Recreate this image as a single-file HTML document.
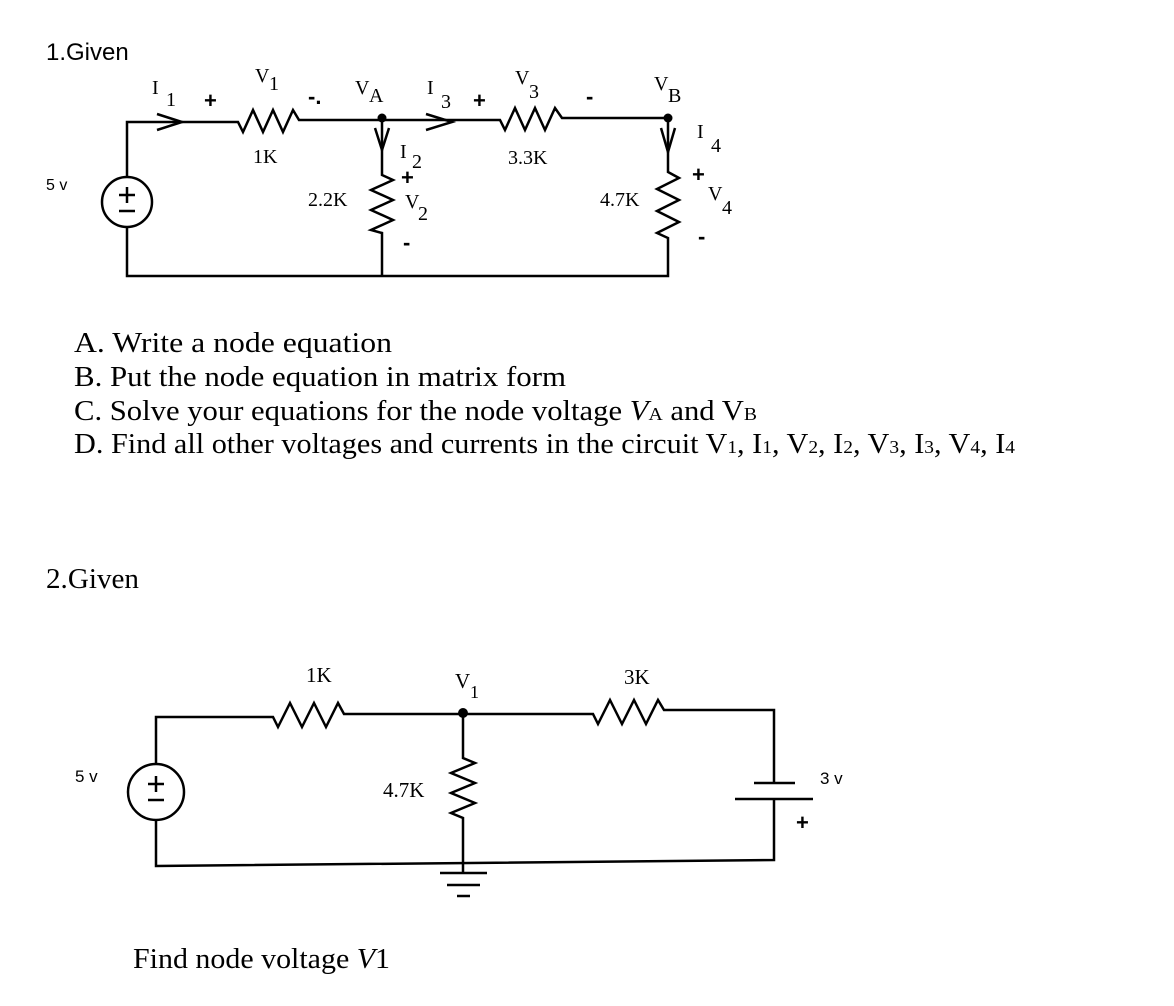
<!DOCTYPE html>
<html><head><meta charset="utf-8"><style>
html,body{margin:0;padding:0;background:#fff;}
svg{display:block;}
.s{font-family:"Liberation Serif",serif;}
.a{font-family:"Liberation Sans",sans-serif;}
</style></head><body>
<svg width="1174" height="1006" viewBox="0 0 1174 1006" xmlns="http://www.w3.org/2000/svg">
<g fill="none" stroke="#000" stroke-width="2.5" stroke-linejoin="miter">
<!-- Circuit 1 -->
<path d="M127 177 V122 H238 l5 10 l10 -22 l10 22 l10 -22 l10 22 l10 -22 l6 10 H500 l5 10 l10 -22 l10 22 l10 -22 l10 22 l10 -22 l7 10 H668 V172 l11 6 l-22 11 l22 11 l-22 11 l22 11 l-22 11 l11 5 V276 H127 V227"/>
<path d="M382 120 V175 l11 5 l-22 10 l22 10 l-22 10 l22 10 l-22 10 l11 3 V276"/>
<ellipse cx="127" cy="202" rx="25" ry="25"/>
<path d="M157 114 L182 122 L157 130" />
<path d="M426 114 L452 122 L426 130" />
<path d="M375 128 L382 150 L389 128" />
<path d="M661 128 L668 152 L675 128" />
<!-- Circuit 2 -->
<path d="M156 765 V717 H273 l5 10 l12 -24 l12 24 l12 -24 l12 24 l12 -24 l6 11 H593 l5 10 l12 -24 l12 24 l12 -24 l12 24 l12 -24 l6 10 H774 V783"/>
<path d="M774 799 V860 L156 866 V820"/>
<path d="M463 713 V758 l12 5 l-24 10 l24 10 l-24 10 l24 10 l-24 10 l12 5 V873"/>
<ellipse cx="156" cy="792" rx="28" ry="28"/>
<path d="M754 783 H795 M735 799 H813"/>
<path d="M440 873 H487 M447 885 H480 M457 896 H470"/>
</g>
<circle cx="382" cy="118" r="4.5"/>
<circle cx="668" cy="118" r="4.5"/>
<circle cx="463" cy="713" r="5"/>
<g stroke="#000" stroke-width="2.5">
<path d="M119 195 H135 M127 187 V203 M119 211 H135"/>
<path d="M148 784 H164 M156 776 V792 M148 800 H164"/>
</g>
<g class="s" font-size="20" fill="#000">
<text x="152" y="94">I</text><text x="166" y="106">1</text>
<text x="204" y="108" class="a" font-size="22" font-weight="bold">+</text>
<text x="255" y="82">V</text><text x="269" y="90">1</text>
<text x="308" y="104" class="a" font-size="22" font-weight="bold">-.</text>
<text x="355" y="94">V</text><text x="369" y="102">A</text>
<text x="427" y="94">I</text><text x="441" y="108">3</text>
<text x="473" y="108" class="a" font-size="22" font-weight="bold">+</text>
<text x="515" y="84">V</text><text x="529" y="98">3</text>
<text x="586" y="104" class="a" font-size="22" font-weight="bold">-</text>
<text x="654" y="90">V</text><text x="668" y="102">B</text>
<text x="253" y="163">1K</text>
<text x="400" y="158">I</text><text x="412" y="168">2</text>
<text x="401" y="185" class="a" font-size="22" font-weight="bold">+</text>
<text x="308" y="206">2.2K</text>
<text x="405" y="208">V</text><text x="418" y="220">2</text>
<text x="403" y="250" class="a" font-size="22" font-weight="bold">-</text>
<text x="508" y="164">3.3K</text>
<text x="697" y="138">I</text><text x="711" y="152">4</text>
<text x="692" y="182" class="a" font-size="22" font-weight="bold">+</text>
<text x="600" y="206">4.7K</text>
<text x="708" y="200">V</text><text x="722" y="214">4</text>
<text x="698" y="244" class="a" font-size="22" font-weight="bold">-</text>
<text x="46" y="190" font-size="16" class="a">5 v</text>
</g>
<text x="46" y="60" class="a" font-size="24">1.Given</text>
<g class="s" font-size="28" fill="#000">
<text x="74" y="352" textLength="318" lengthAdjust="spacingAndGlyphs">A.  Write a node equation</text>
<text x="74" y="386" textLength="492" lengthAdjust="spacingAndGlyphs">B.  Put the node equation in matrix form</text>
<text x="74" y="420" textLength="683" lengthAdjust="spacingAndGlyphs">C.  Solve your equations for the node voltage <tspan font-style="italic">V</tspan><tspan font-size="18">A</tspan> and V<tspan font-size="18">B</tspan></text>
<text x="74" y="453" textLength="941" lengthAdjust="spacingAndGlyphs">D.  Find all other voltages and currents in the circuit V<tspan font-size="18">1</tspan>, I<tspan font-size="18">1</tspan>, V<tspan font-size="18">2</tspan>, I<tspan font-size="18">2</tspan>, V<tspan font-size="18">3</tspan>, I<tspan font-size="18">3</tspan>, V<tspan font-size="18">4</tspan>, I<tspan font-size="18">4</tspan></text>
<text x="46" y="588" textLength="93" lengthAdjust="spacingAndGlyphs">2.Given</text>
<text x="133" y="968" textLength="257" lengthAdjust="spacingAndGlyphs">Find node voltage <tspan font-style="italic">V</tspan>1</text>
</g>
<g class="s" font-size="21" fill="#000">
<text x="306" y="682">1K</text>
<text x="455" y="688">V</text><text x="470" y="698" font-size="18">1</text>
<text x="624" y="684">3K</text>
<text x="383" y="797">4.7K</text>
<text x="75" y="782" font-size="17" class="a">5 v</text>
<text x="820" y="784" font-size="17" class="a">3 v</text>
<text x="796" y="830" font-size="22" class="a" font-weight="bold">+</text>
</g>
</svg>
</body></html>
